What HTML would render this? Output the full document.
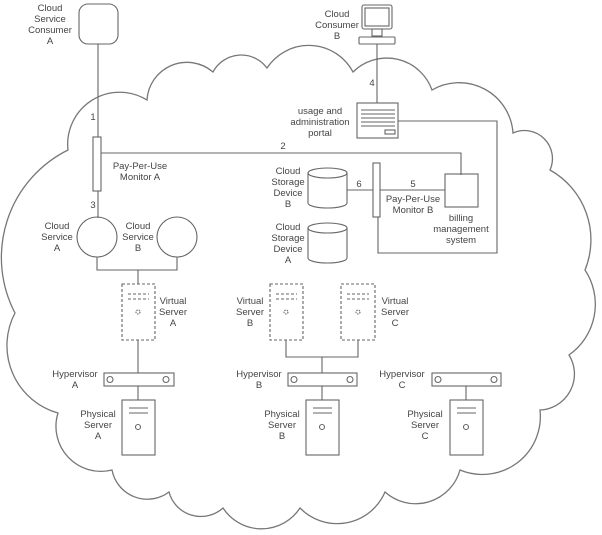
<!DOCTYPE html>
<html><head><meta charset="utf-8"><style>
html,body{margin:0;padding:0;background:#fff}
svg{display:block}
text{font-family:"Liberation Sans",sans-serif;font-size:9.5px;fill:#444}
</style></head><body>
<svg width="602" height="535" viewBox="0 0 602 535" xmlns="http://www.w3.org/2000/svg">
<g fill="none" stroke="#777" stroke-width="1.3">
<path d="M68,150 A52,52 0 0 1 147,100 A40,40 0 0 1 213,72 A32,32 0 0 1 267,68 A50,50 0 0 1 353,72 A48,48 0 0 1 432,90 A54,54 0 0 1 513,133 A28,28 0 0 1 550,170 A80,80 0 0 1 585,270 A62,62 0 0 1 569,355 A36,36 0 0 1 540,410 A58,58 0 0 1 460,470 A46,46 0 0 1 385,492 A52,52 0 0 1 300,508 A46,46 0 0 1 223,508 A33,33 0 0 1 169,492 A36,36 0 0 1 112,470 A45,45 0 0 1 58,413 A70,70 0 0 1 15,313 A120,120 0 0 1 68,150 Z"/>
</g>
<g fill="none" stroke="#666" stroke-width="1.1">
<rect x="79" y="4" width="39" height="40" rx="9" fill="#fff"/>
<line x1="98" y1="44" x2="98" y2="137"/>
<rect x="93" y="137" width="8" height="54" fill="#fff"/>
<line x1="98" y1="191" x2="98" y2="218"/>
<polyline points="101,153 461,153 461,175"/>
<circle cx="97" cy="237" r="20"/>
<circle cx="177" cy="237" r="20"/>
<polyline points="97,257 97,270 177,270 177,257"/>
<line x1="138" y1="270" x2="138" y2="284"/>
<rect x="362" y="5" width="30" height="24" rx="2"/>
<rect x="365" y="8" width="24" height="18"/>
<rect x="372" y="29" width="10" height="7"/>
<rect x="359" y="37" width="36" height="7" rx="1"/>
<line x1="377" y1="44" x2="377" y2="103"/>
<rect x="357" y="103" width="41" height="35"/>
<line x1="361" y1="110" x2="395" y2="110"/><line x1="361" y1="114" x2="395" y2="114"/>
<line x1="361" y1="118" x2="395" y2="118"/><line x1="361" y1="122" x2="395" y2="122"/>
<line x1="361" y1="126" x2="395" y2="126"/>
<rect x="385" y="130" width="10" height="4"/>
<polyline points="398,121 497,121 497,253 378,253 378,217"/>
<rect x="373" y="163" width="7" height="54" fill="#fff"/>
<rect x="445" y="174" width="33" height="33"/>
<line x1="347" y1="190" x2="373" y2="190"/>
<line x1="380" y1="190" x2="445" y2="190"/>
<path d="M308,173 v30 a19.5,5 0 0 0 39,0 v-30"/><ellipse cx="327.5" cy="173" rx="19.5" ry="5"/>
<path d="M308,228 v30 a19.5,5 0 0 0 39,0 v-30"/><ellipse cx="327.5" cy="228" rx="19.5" ry="5"/>
<g stroke-dasharray="3,2">
<rect x="122" y="284" width="33" height="56"/>
<rect x="270" y="284" width="33" height="56"/>
<rect x="341" y="284" width="34" height="56"/>
<line x1="128" y1="294" x2="149" y2="294"/><line x1="128" y1="299" x2="149" y2="299"/>
<line x1="276" y1="294" x2="297" y2="294"/><line x1="276" y1="299" x2="297" y2="299"/>
<line x1="347" y1="294" x2="369" y2="294"/><line x1="347" y1="299" x2="369" y2="299"/>
</g>
<circle cx="138" cy="312" r="2" stroke-dasharray="1.5,1"/>
<circle cx="286" cy="312" r="2" stroke-dasharray="1.5,1"/>
<circle cx="358" cy="312" r="2" stroke-dasharray="1.5,1"/>
<line x1="138" y1="340" x2="138" y2="373"/>
<polyline points="286,340 286,357 358,357 358,340"/>
<line x1="322" y1="357" x2="322" y2="373"/>
<rect x="104" y="373" width="70" height="13"/><circle cx="110" cy="379.5" r="3"/><circle cx="166" cy="379.5" r="3"/>
<rect x="288" y="373" width="69" height="13"/><circle cx="294" cy="379.5" r="3"/><circle cx="350" cy="379.5" r="3"/>
<rect x="432" y="373" width="69" height="13"/><circle cx="438" cy="379.5" r="3"/><circle cx="494" cy="379.5" r="3"/>
<line x1="138" y1="386" x2="138" y2="400"/>
<line x1="322" y1="386" x2="322" y2="400"/>
<line x1="466" y1="386" x2="466" y2="400"/>
<rect x="122" y="400" width="33" height="55"/><line x1="129" y1="408" x2="148" y2="408"/><line x1="129" y1="413" x2="148" y2="413"/><circle cx="138" cy="427" r="2.5"/>
<rect x="306" y="400" width="33" height="55"/><line x1="313" y1="408" x2="332" y2="408"/><line x1="313" y1="413" x2="332" y2="413"/><circle cx="322" cy="427" r="2.5"/>
<rect x="450" y="400" width="33" height="55"/><line x1="457" y1="408" x2="476" y2="408"/><line x1="457" y1="413" x2="476" y2="413"/><circle cx="466" cy="427" r="2.5"/>
</g>
<g text-anchor="middle">
<text x="50" y="11">Cloud</text><text x="50" y="22">Service</text><text x="50" y="33">Consumer</text><text x="50" y="44">A</text>
<text x="93" y="120">1</text><text x="93" y="208">3</text><text x="283" y="149">2</text>
<text x="140" y="169">Pay-Per-Use</text><text x="140" y="180">Monitor A</text>
<text x="57" y="229">Cloud</text><text x="57" y="240">Service</text><text x="57" y="251">A</text>
<text x="138" y="229">Cloud</text><text x="138" y="240">Service</text><text x="138" y="251">B</text>
<text x="337" y="17">Cloud</text><text x="337" y="28">Consumer</text><text x="337" y="39">B</text>
<text x="372" y="86">4</text>
<text x="320" y="114">usage and</text><text x="320" y="125">administration</text><text x="320" y="136">portal</text>
<text x="288" y="174">Cloud</text><text x="288" y="185">Storage</text><text x="288" y="196">Device</text><text x="288" y="207">B</text>
<text x="288" y="230">Cloud</text><text x="288" y="241">Storage</text><text x="288" y="252">Device</text><text x="288" y="263">A</text>
<text x="359" y="187">6</text><text x="413" y="187">5</text>
<text x="413" y="202">Pay-Per-Use</text><text x="413" y="213">Monitor B</text>
<text x="461" y="221">billing</text><text x="461" y="232">management</text><text x="461" y="243">system</text>
<text x="173" y="304">Virtual</text><text x="173" y="315">Server</text><text x="173" y="326">A</text>
<text x="250" y="304">Virtual</text><text x="250" y="315">Server</text><text x="250" y="326">B</text>
<text x="395" y="304">Virtual</text><text x="395" y="315">Server</text><text x="395" y="326">C</text>
<text x="75" y="377">Hypervisor</text><text x="75" y="388">A</text>
<text x="259" y="377">Hypervisor</text><text x="259" y="388">B</text>
<text x="402" y="377">Hypervisor</text><text x="402" y="388">C</text>
<text x="98" y="417">Physical</text><text x="98" y="428">Server</text><text x="98" y="439">A</text>
<text x="282" y="417">Physical</text><text x="282" y="428">Server</text><text x="282" y="439">B</text>
<text x="425" y="417">Physical</text><text x="425" y="428">Server</text><text x="425" y="439">C</text>
</g>
</svg>
</body></html>
